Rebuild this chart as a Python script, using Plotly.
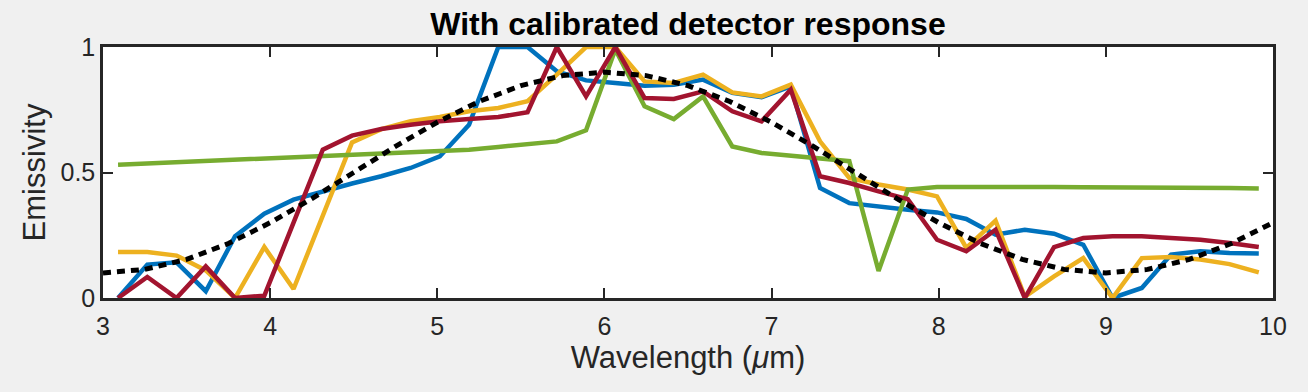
import plotly.graph_objects as go

wavelength = [3.09, 3.265, 3.44, 3.615, 3.79, 3.965, 4.14, 4.315, 4.49, 4.665,
              4.84, 5.015, 5.19, 5.365, 5.54, 5.715, 5.89, 6.065, 6.24, 6.415,
              6.59, 6.765, 6.94, 7.115, 7.29, 7.465, 7.64, 7.815, 7.99, 8.165,
              8.34, 8.515, 8.69, 8.865, 9.04, 9.215, 9.39, 9.565, 9.74, 9.915]

blue = [0.0, 0.133, 0.142, 0.027, 0.246, 0.336, 0.392, 0.425, 0.456, 0.485,
        0.518, 0.564, 0.69, 1.0, 1.0, 0.903, 0.867, 0.857, 0.846, 0.85,
        0.87, 0.817, 0.80, 0.843, 0.438, 0.378, 0.363, 0.352, 0.341, 0.315,
        0.252, 0.272, 0.256, 0.212, 0.0, 0.04, 0.173, 0.186, 0.179, 0.177]

yellow = [0.183, 0.183, 0.169, 0.11, 0.0, 0.203, 0.036, 0.33, 0.62, 0.673,
          0.704, 0.721, 0.744, 0.757, 0.784, 0.89, 1.0, 1.0, 0.863, 0.857,
          0.89, 0.819, 0.803, 0.85, 0.624, 0.478, 0.452, 0.432, 0.405, 0.2,
          0.308, 0.005, 0.086, 0.159, 0.0, 0.159, 0.163, 0.153, 0.135, 0.102]

green = [0.531, 0.536, 0.541, 0.546, 0.551, 0.556, 0.560, 0.565, 0.570, 0.575,
         0.578, 0.584, 0.591, 0.602, 0.611, 0.624, 0.668, 0.99, 0.764, 0.713,
         0.803, 0.604, 0.578, 0.567, 0.558, 0.545, 0.108, 0.432, 0.442, 0.443,
         0.442, 0.442, 0.442, 0.441, 0.441, 0.440, 0.440, 0.439, 0.438, 0.436]

red = [0.0, 0.084, 0.0, 0.126, 0.0, 0.009, 0.3, 0.591, 0.647, 0.673,
       0.69, 0.704, 0.713, 0.721, 0.74, 1.0, 0.803, 1.0, 0.797, 0.793,
       0.823, 0.744, 0.704, 0.83, 0.485, 0.458, 0.425, 0.394, 0.232, 0.186,
       0.272, 0.0, 0.203, 0.239, 0.246, 0.246, 0.239, 0.232, 0.219, 0.203]

model_x = [3.0, 3.25, 3.5, 3.75, 4.0, 4.25, 4.5, 4.75, 5.0, 5.25, 5.5, 5.75,
           6.0, 6.25, 6.5, 6.75, 7.0, 7.25, 7.5, 7.75, 8.0, 8.25, 8.5, 8.75,
           9.0, 9.25, 9.5, 9.75, 10.0]
model_y = [0.1, 0.114, 0.154, 0.217, 0.3, 0.396, 0.5, 0.604, 0.7, 0.783, 0.846, 0.886,
           0.9, 0.886, 0.846, 0.783, 0.7, 0.604, 0.5, 0.396, 0.3, 0.217, 0.154, 0.114,
           0.1, 0.114, 0.154, 0.217, 0.3]

x_ticks = [3, 4, 5, 6, 7, 8, 9, 10]
y_ticks = [0, 0.5, 1]
y_tick_text = ["0", "0.5", "1"]

FONT = "Liberation Sans, Arial, Helvetica, sans-serif"
AX = "#262626"

fig = go.Figure()
for ys, col in [(blue, "#0072BD"), (yellow, "#EDB120"), (green, "#77AC30"), (red, "#A2142F")]:
    fig.add_trace(go.Scatter(x=wavelength, y=ys, mode="lines",
                             line=dict(color=col, width=4.5), showlegend=False,
                             hoverinfo="skip"))
fig.add_trace(go.Scatter(x=model_x, y=model_y, mode="lines",
                         line=dict(color="black", width=5, dash="8px,6px"),
                         showlegend=False, hoverinfo="skip"))

fig.update_layout(
    width=1308, height=392,
    margin=dict(l=103, r=35, t=47, b=94),
    paper_bgcolor="#f0f0f0", plot_bgcolor="white",
    font=dict(family=FONT, color=AX),
    title=dict(text="<b>With calibrated detector response</b>",
               font=dict(family=FONT, size=32, color="black"),
               x=0.5, xref="paper", xanchor="center",
               y=1 - 24 / 392, yref="container", yanchor="middle"),
)
fig.update_xaxes(range=[3, 10], tickvals=x_ticks, ticks="inside", ticklen=10,
                 tickwidth=2, tickcolor=AX, showline=True, linewidth=2.5,
                 linecolor=AX, mirror="ticks", showgrid=False, zeroline=False,
                 tickfont=dict(size=25, color=AX), ticklabelstandoff=4,
                 title=dict(text="Wavelength (<i>μ</i>m)", font=dict(size=31, color=AX),
                            standoff=2))
fig.update_yaxes(range=[0, 1], tickvals=y_ticks, ticktext=y_tick_text, ticks="inside",
                 ticklen=10, tickwidth=2, tickcolor=AX, showline=True, linewidth=2.5,
                 linecolor=AX, mirror="ticks", showgrid=False, zeroline=False,
                 tickfont=dict(size=25, color=AX),
                 title=dict(text="Emissivity", font=dict(size=31, color=AX), standoff=6))

fig.write_html("out.html", config={"displayModeBar": False},
               post_script="document.body.style.margin='0';")
